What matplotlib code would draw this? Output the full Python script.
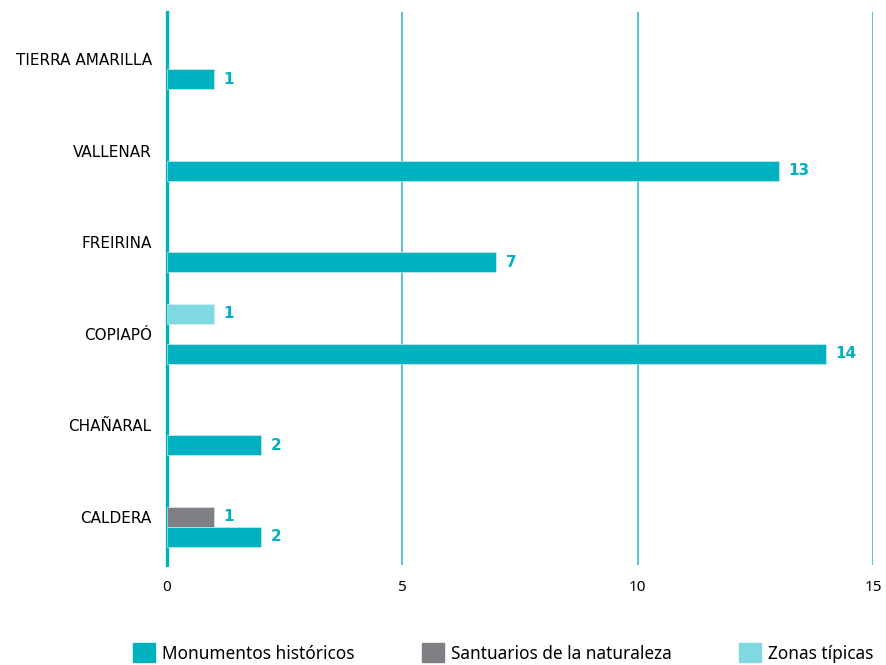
import matplotlib.pyplot as plt
import numpy as np

comunas = ["CALDERA", "CHAÑARAL", "COPIAPÓ", "FREIRINA", "VALLENAR", "TIERRA AMARILLA"]
monumentos = [2, 2, 14, 7, 13, 1]
santuarios = [1, 0, 0, 0, 0, 0]
zonas = [0, 0, 1, 0, 0, 0]
xticks = [0, 5, 10, 15]

TEAL = "#00b2bf"
GRAY = "#808084"
LIGHT = "#80d9e0"

fig = plt.figure(figsize=(8.86, 6.65), dpi=100)
ax = fig.add_axes([167 / 886, 1 - 565 / 665, (873 - 167) / 886, (565 - 12) / 665])

y = np.arange(len(comunas))
off = 0.218
h = 0.222

series = [
    (monumentos, -off, TEAL, "Monumentos históricos"),
    (santuarios, 0, GRAY, "Santuarios de la naturaleza"),
    (zonas, off, LIGHT, "Zonas típicas"),
]

for vals, dy, color, name in series:
    vals = np.array(vals)
    mask = vals > 0
    ax.barh(y[mask] + dy, vals[mask], height=h, color=color,
            edgecolor="#d6f3f5", linewidth=0.4, label=name, zorder=3)
    for yy, v in zip(y[mask] + dy, vals[mask]):
        ax.text(v + 0.2, yy, str(v), va="center", ha="left", color=TEAL,
                fontsize=11, fontweight="bold", family="DejaVu Sans")

ax.set_xlim(0, 15)
ax.set_ylim(-0.525, 5.515)
ax.set_xticks(xticks)
ax.set_xticklabels([str(t) for t in xticks], fontsize=11, family="Noto Sans")
ax.set_yticks(y)
ax.set_yticklabels(comunas, fontsize=11, family="DejaVu Sans")
ax.tick_params(axis="both", length=0)
ax.tick_params(axis="x", pad=11)
ax.tick_params(axis="y", pad=11)

for s in ["top", "right", "bottom"]:
    ax.spines[s].set_visible(False)
ax.spines["left"].set_color(TEAL)
ax.spines["left"].set_linewidth(2.4)

for t in xticks[1:]:
    ax.axvline(t, color="#55c6d2", linewidth=1.4, zorder=1)

handles = [plt.Rectangle((0, 0), 1, 1, color=c) for _, _, c, _ in series]
labels = [n for _, _, _, n in series]
fig.legend(handles, labels, loc="center", bbox_to_anchor=(503 / 886, 1 - 653 / 665),
           ncol=3, frameon=False, prop={"family": "Noto Sans", "size": 12.4},
           handlelength=1.3, handleheight=1.3, handletextpad=0.4, columnspacing=3.9)

fig.savefig("out.png", dpi=100)
